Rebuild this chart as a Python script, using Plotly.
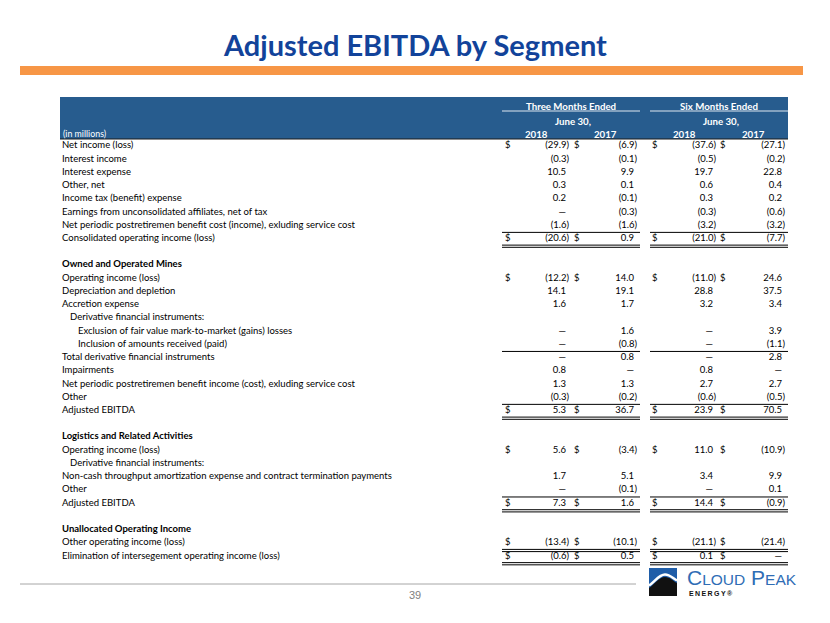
import plotly.graph_objects as go

# ---------------- data ----------------
title_text = "Adjusted EBITDA by Segment"
unit_label = "(in millions)"
period_headers = ["Three Months Ended", "Six Months Ended"]
date_headers = ["June 30,", "June 30,"]
year_headers = ["2018", "2017", "2018", "2017"]

row_labels = [
    "Net income (loss)",
    "Interest income",
    "Interest expense",
    "Other, net",
    "Income tax (benefit) expense",
    "Earnings from unconsolidated affiliates, net of tax",
    "Net periodic postretiremen benefit cost (income), exluding service cost",
    "Consolidated operating income (loss)",
    "",
    "Owned and Operated Mines",
    "Operating income (loss)",
    "Depreciation and depletion",
    "Accretion expense",
    "Derivative financial instruments:",
    "Exclusion of fair value mark-to-market (gains) losses",
    "Inclusion of amounts received (paid)",
    "Total derivative financial instruments",
    "Impairments",
    "Net periodic postretiremen benefit income (cost), exluding service cost",
    "Other",
    "Adjusted EBITDA",
    "",
    "Logistics and Related Activities",
    "Operating income (loss)",
    "Derivative financial instruments:",
    "Non-cash throughput amortization expense and contract termination payments",
    "Other",
    "Adjusted EBITDA",
    "",
    "Unallocated Operating Income",
    "Other operating income (loss)",
    "Elimination of intersegement operating income (loss)",
]
label_indent = [0, 0, 0, 0, 0, 0, 0, 0, 0, 0, 0, 0, 0, 1, 2, 2, 0, 0, 0, 0, 0, 0,
                0, 0, 1, 0, 0, 0, 0, 0, 0, 0]
bold_rows = [9, 22, 29]
dollar_rows = [0, 7, 10, 20, 23, 27, 30, 31]

# 0.0 is shown as an em dash, None is an empty cell
q2_2018 = [-29.9, -0.3, 10.5, 0.3, 0.2, 0.0, -1.6, -20.6, None, None,
           -12.2, 14.1, 1.6, None, 0.0, 0.0, 0.0, 0.8, 1.3, -0.3, 5.3, None,
           None, 5.6, None, 1.7, 0.0, 7.3, None, None, -13.4, -0.6]
q2_2017 = [-6.9, -0.1, 9.9, 0.1, -0.1, -0.3, -1.6, 0.9, None, None,
           14.0, 19.1, 1.7, None, 1.6, -0.8, 0.8, 0.0, 1.3, -0.2, 36.7, None,
           None, -3.4, None, 5.1, -0.1, 1.6, None, None, -10.1, 0.5]
h1_2018 = [-37.6, -0.5, 19.7, 0.6, 0.3, -0.3, -3.2, -21.0, None, None,
           -11.0, 28.8, 3.2, None, 0.0, 0.0, 0.0, 0.8, 2.7, -0.6, 23.9, None,
           None, 11.0, None, 3.4, 0.0, 14.4, None, None, -21.1, 0.1]
h1_2017 = [-27.1, -0.2, 22.8, 0.4, 0.2, -0.6, -3.2, -7.7, None, None,
           24.6, 37.5, 3.4, None, 3.9, -1.1, 2.8, 0.0, 2.7, -0.5, 70.5, None,
           None, -10.9, None, 9.9, 0.1, -0.9, None, None, -21.4, 0.0]

single_rule_rows = [6, 15, 19, 26]
double_rule_rows = [7, 20, 27, 30, 31]
page_number = "39"
logo_name = ["C", "LOUD", " P", "EAK"]
logo_sub = "ENERGY\u00ae"

# ---------------- style ----------------
W, H = 830, 623
PAGE_MARGIN = 8  # default body margin of the html page
BODY_FONT = "Lato, Open Sans, sans-serif"
TITLE_FONT = "Lato, Open Sans, sans-serif"
BODY_SIZE = 9.5
TITLE_BLUE = "#12439A"
HEAD_BLUE = "#275C8E"
ORANGE = "#F79646"
Y0, DY = 146.0, 13.23
LABEL_X = 62
INDENT = 8
col_right = [569, 637, 716, 785]
col_dollar = [505, 574, 652, 720]
group_span = [(502, 640), (650, 788)]
header_center = [571, 719]
year_center = [536, 605, 684, 753]


def row_y(i):
    return Y0 + i * DY


def fmt(v):
    if v is None:
        return ""
    if v == 0:
        return "\u2014"
    if v < 0:
        return "(%.1f)" % (-v)
    return "%.1f" % v


fig = go.Figure()

# row labels
lab_x, lab_y, lab_t = [], [], []
for i, (t, ind) in enumerate(zip(row_labels, label_indent)):
    if not t:
        continue
    lab_x.append(LABEL_X + ind * INDENT)
    lab_y.append(row_y(i))
    lab_t.append("<b>%s</b>" % t if i in bold_rows else t)
fig.add_trace(go.Scatter(x=lab_x, y=lab_y, text=lab_t, mode="text",
                         textposition="middle right",
                         textfont=dict(family=BODY_FONT, size=BODY_SIZE, color="#000000"),
                         hoverinfo="skip", showlegend=False))

# values
for c, series in enumerate([q2_2018, q2_2017, h1_2018, h1_2017]):
    xs, ys, ts = [], [], []
    for i, v in enumerate(series):
        s = fmt(v)
        if not s:
            continue
        xs.append(col_right[c] - (0 if s.endswith(")") else 3))
        ys.append(row_y(i))
        ts.append(s)
    fig.add_trace(go.Scatter(x=xs, y=ys, text=ts, mode="text",
                             textposition="middle left",
                             textfont=dict(family=BODY_FONT, size=BODY_SIZE, color="#000000"),
                             hoverinfo="skip", showlegend=False))
    fig.add_trace(go.Scatter(x=[col_dollar[c]] * len(dollar_rows),
                             y=[row_y(i) for i in dollar_rows],
                             text=["$"] * len(dollar_rows), mode="text",
                             textposition="middle right",
                             textfont=dict(family=BODY_FONT, size=BODY_SIZE, color="#000000"),
                             hoverinfo="skip", showlegend=False))

shapes = []
# header band
shapes.append(dict(type="rect", xref="x", yref="y", x0=60, x1=788, y0=97, y1=139,
                   fillcolor=HEAD_BLUE, line=dict(width=0), layer="below"))
shapes.append(dict(type="line", xref="x", yref="y", x0=60, x1=788, y0=139, y1=139,
                   line=dict(color="#1a1a1a", width=1)))
for (a, b) in group_span:
    shapes.append(dict(type="line", xref="x", yref="y", x0=a, x1=b, y0=111, y1=111,
                       line=dict(color="#dfe7f0", width=1)))
# rules
for r in single_rule_rows:
    y = row_y(r) + 7
    for (a, b) in group_span:
        shapes.append(dict(type="line", xref="x", yref="y", x0=a, x1=b, y0=y, y1=y,
                           line=dict(color="#000000", width=1)))
for r in double_rule_rows:
    for off in (6.5, 8.7):
        y = row_y(r) + off
        for (a, b) in group_span:
            shapes.append(dict(type="line", xref="x", yref="y", x0=a, x1=b, y0=y, y1=y,
                               line=dict(color="#000000", width=1)))
# orange bar
shapes.append(dict(type="rect", xref="x", yref="y", x0=20, x1=803, y0=66, y1=75,
                   fillcolor=ORANGE, line=dict(width=0)))
# footer line
shapes.append(dict(type="line", xref="x", yref="y", x0=20, x1=636, y0=584, y1=584,
                   line=dict(color="#A6A6A6", width=1)))
# logo icon
shapes.append(dict(type="rect", xref="x", yref="y", x0=649, x1=677, y0=568, y1=590,
                   fillcolor="#1F5DA8", line=dict(width=0)))
shapes.append(dict(type="path", xref="x", yref="y",
                   path="M649,596 L649,588 C655,584 659,577 665,577 C670,577 673,581 677,583 L677,596 Z",
                   fillcolor="#111111", line=dict(width=0)))
shapes.append(dict(type="path", xref="x", yref="y",
                   path="M649,585.5 C655,581.5 659,574.5 665,574.5 C670,574.5 673,578.5 677,580.5",
                   line=dict(color="#ffffff", width=2.5)))

ann = []
ann.append(dict(x=415, y=44, xref="x", yref="y", text="<b>%s</b>" % title_text,
                showarrow=False, xanchor="center", yanchor="middle",
                font=dict(family=TITLE_FONT, size=29, color=TITLE_BLUE)))
for k in range(2):
    ann.append(dict(x=header_center[k], y=106, xref="x", yref="y",
                    text="<b>%s</b>" % period_headers[k], showarrow=False,
                    font=dict(family=BODY_FONT, size=9.7, color="white")))
    ann.append(dict(x=header_center[k] + 2, y=121, xref="x", yref="y",
                    text="<b>%s</b>" % date_headers[k], showarrow=False,
                    font=dict(family=BODY_FONT, size=9.7, color="white")))
for k in range(4):
    ann.append(dict(x=year_center[k], y=134, xref="x", yref="y",
                    text="<b>%s</b>" % year_headers[k], showarrow=False,
                    font=dict(family=BODY_FONT, size=9.7, color="white")))
ann.append(dict(x=LABEL_X - 1, y=133, xref="x", yref="y", text=unit_label,
                showarrow=False, xanchor="left",
                font=dict(family=BODY_FONT, size=8.8, color="white")))
ann.append(dict(x=415, y=595, xref="x", yref="y", text=page_number, showarrow=False,
                font=dict(family="Liberation Sans, Arial, sans-serif", size=11, color="#7F7F7F")))
logo_txt = ("<span style='font-size:21px'>%s</span><span style='font-size:15.5px'>%s</span>"
            "<span style='font-size:21px'>%s</span><span style='font-size:15.5px'>%s</span>"
            % tuple(logo_name))
ann.append(dict(x=685, y=577, xref="x", yref="y", text=logo_txt, showarrow=False,
                xanchor="left", yanchor="middle",
                font=dict(family="Liberation Sans, Arial, sans-serif", size=16, color="#2F6DB5")))
ann.append(dict(x=687, y=593, xref="x", yref="y", text="<b>%s</b>" % "\u2009".join(logo_sub),
                showarrow=False, xanchor="left", yanchor="middle",
                font=dict(family="Liberation Sans, Arial, sans-serif", size=7, color="#111111")))

fig.update_layout(
    width=W - PAGE_MARGIN, height=H - PAGE_MARGIN, margin=dict(l=0, r=0, t=0, b=0),
    paper_bgcolor="white", plot_bgcolor="white",
    xaxis=dict(range=[PAGE_MARGIN, W], visible=False, fixedrange=True),
    yaxis=dict(range=[H, PAGE_MARGIN], visible=False, fixedrange=True),
    shapes=shapes, annotations=ann, showlegend=False,
)
fig.write_html("out.html")
